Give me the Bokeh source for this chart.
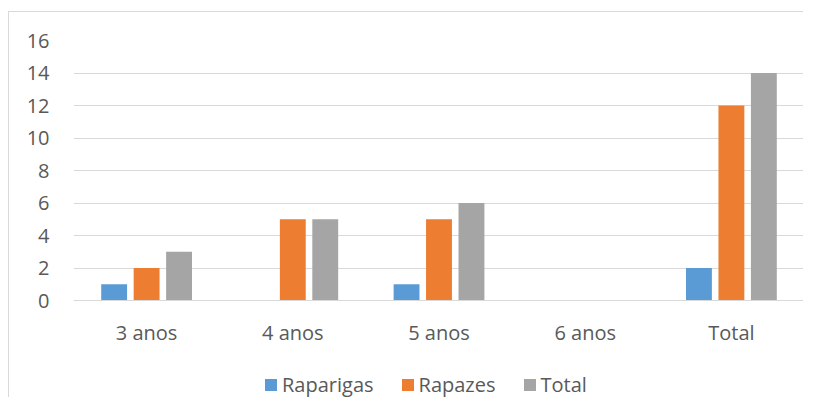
from bokeh.plotting import figure
from bokeh.models import ColumnDataSource, FixedTicker, Legend, LegendItem, Range1d
from bokeh.transform import dodge
from bokeh.embed import file_html
from bokeh.resources import INLINE

categories = ["3 anos", "4 anos", "5 anos", "6 anos", "Total"]
raparigas = [1, 0, 1, 0, 2]
rapazes = [2, 5, 5, 0, 12]
total = [3, 5, 6, 0, 14]
series_names = ["Raparigas", "Rapazes", "Total"]
y_ticks = [0, 2, 4, 6, 8, 10, 12, 14, 16]

colors = ["#5B9BD5", "#ED7D31", "#A5A5A5"]
FONT = "Open Sans"
TXT = "#595959"

src = ColumnDataSource(dict(cat=categories, r0=raparigas, r1=rapazes, r2=total))

# frame extends below zero to host the axis labels and legend (98px below 0 at 16.25px/unit)
p = figure(x_range=categories, y_range=Range1d(-98 / 16.25, 16), width=795, height=386,
           output_backend="svg", toolbar_location=None,
           min_border_left=64, min_border_right=0, min_border_top=28, min_border_bottom=0)
p.margin = (11, 0, 0, 8)
p.styles = {"border-top": "1px solid #D9D9D9", "border-left": "1px solid #D9D9D9"}
p.x_range.range_padding = 0
p.outline_line_color = None
p.background_fill_color = "white"
p.border_fill_color = "white"

bw = 0.177
offs = [-0.222, 0.0, 0.222]
renderers = []
for i, col in enumerate(["r0", "r1", "r2"]):
    r = p.vbar(x=dodge("cat", offs[i], range=p.x_range), top=col, bottom=0, width=bw,
               source=src, fill_color=colors[i], line_color=None)
    renderers.append(r)

p.xgrid.grid_line_color = None
p.ygrid.grid_line_color = "#D9D9D9"
p.ygrid.grid_line_width = 1
p.yaxis.ticker = FixedTicker(ticks=y_ticks)

for ax in [p.xaxis[0], p.yaxis[0]]:
    ax.major_tick_line_color = None
    ax.minor_tick_line_color = None
    ax.major_label_text_font = FONT
    ax.major_label_text_font_size = "20px"
    ax.major_label_text_color = TXT
p.yaxis.axis_line_color = None
p.yaxis.major_label_standoff = 18
p.xaxis.axis_line_color = "#D9D9D9"
p.xaxis.major_label_standoff = 12
p.xaxis.fixed_location = 0

items = [LegendItem(label=series_names[i], renderers=[renderers[i]]) for i in range(3)]
legend = Legend(items=items, orientation="horizontal", location=(190, 0),
                glyph_width=15, glyph_height=15, label_standoff=4, spacing=26,
                padding=0, margin=0, border_line_color=None, background_fill_alpha=0,
                label_text_font=FONT, label_text_font_size="20px", label_text_color=TXT,
                label_height=20)
p.add_layout(legend, "center")

open("out.html", "w").write(file_html(p, INLINE))
